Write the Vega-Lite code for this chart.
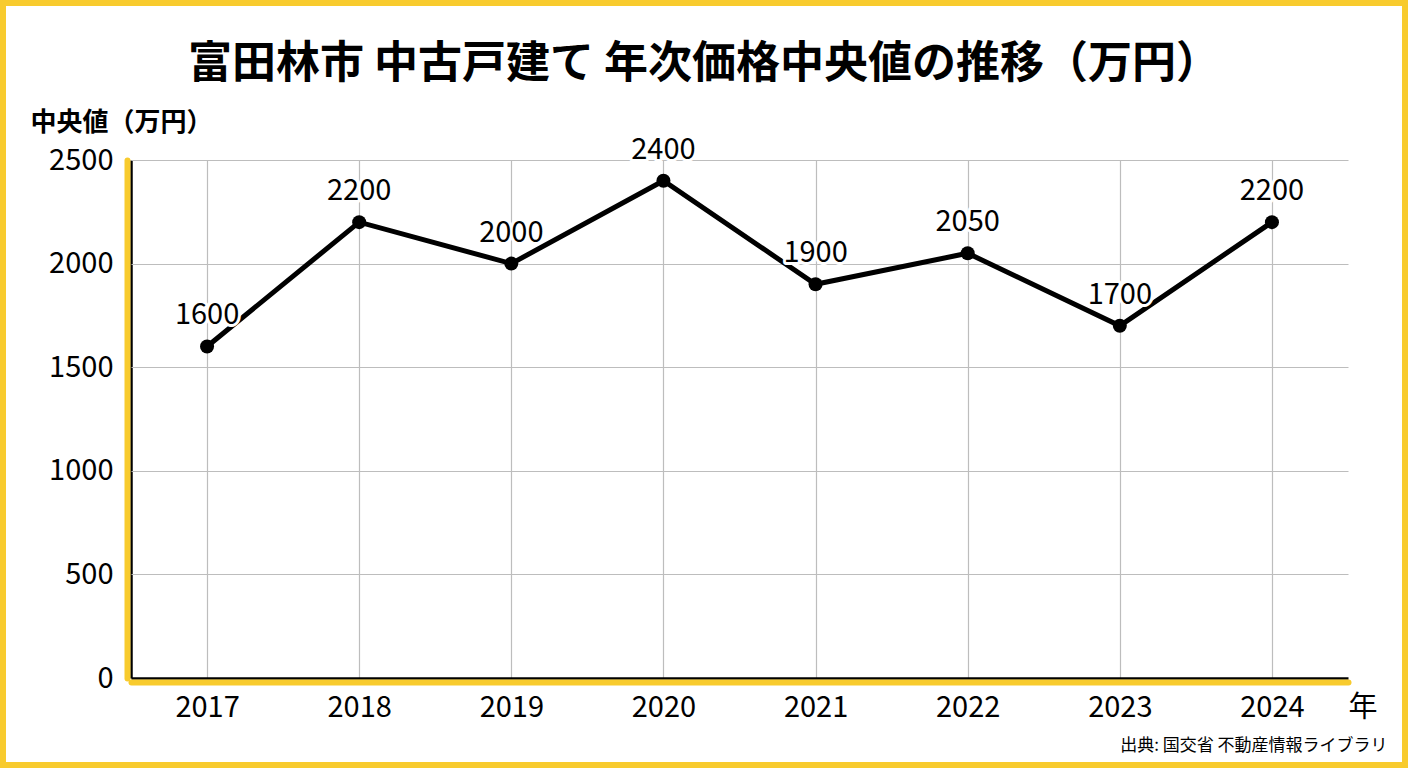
{
  "$schema": "https://vega.github.io/schema/vega-lite/v6.json",
  "width": 1408,
  "height": 768,
  "padding": 0,
  "autosize": {"type": "none"},
  "background": "white",
  "config": {
    "font": "Noto Sans CJK JP",
    "view": {"stroke": "#F8CB2E", "strokeWidth": 12}
  },
  "title": {
    "text": "富田林市 中古戸建て 年次価格中央値の推移（万円）",
    "fontSize": 44,
    "fontWeight": "bold",
    "color": "black",
    "anchor": "middle",
    "frame": "group",
    "offset": -87
  },
  "data": {
    "values": [
      {"year": 2017, "value": 1600},
      {"year": 2018, "value": 2200},
      {"year": 2019, "value": 2000},
      {"year": 2020, "value": 2400},
      {"year": 2021, "value": 1900},
      {"year": 2022, "value": 2050},
      {"year": 2023, "value": 1700},
      {"year": 2024, "value": 2200}
    ]
  },
  "encoding": {
    "x": {
      "field": "year",
      "type": "quantitative",
      "scale": {"domain": [2016.5, 2024.5], "range": [131, 1348], "nice": false, "zero": false},
      "axis": {
        "orient": "top",
        "offset": -682,
        "values": [2016.5, 2017, 2018, 2019, 2020, 2021, 2022, 2023, 2024, 2024.5],
        "tickCount": 50,
        "tickMinStep": 0.1,
        "labelExpr": "datum.value == 2024.5 ? '年' : (datum.value == 2016.5 ? '' : format(datum.value, 'd'))",
        "labelAlign": {"condition": {"test": "datum.value == 2024.5", "value": "left"}, "value": "center"},
        "labelBaseline": "top",
        "labelFlush": false,
        "labelOverlap": false,
        "labelFontSize": 29,
        "labelColor": "black",
        "labelPadding": -11,
        "ticks": false,
        "tickSize": 0,
        "domainColor": "#F8CB2E",
        "domainWidth": 6,
        "domainCap": "round",
        "gridColor": {"condition": {"test": "datum.value == 2016.5", "value": "black"}, "value": "#bdbdbd"},
        "gridWidth": {"condition": {"test": "datum.value == 2016.5", "value": 2.5}, "value": 1.2},
        "gridOpacity": {"condition": {"test": "datum.value == 2024.5", "value": 0}, "value": 1},
        "title": "出典: 国交省 不動産情報ライブラリ",
        "titleX": 1387,
        "titleY": 63,
        "titleAlign": "right",
        "titleBaseline": "middle",
        "titleFontSize": 17,
        "titleFontWeight": "normal",
        "titleColor": "black"
      }
    },
    "y": {
      "field": "value",
      "type": "quantitative",
      "scale": {"domain": [0, 2500], "range": [678, 160], "nice": false},
      "axis": {
        "orient": "left",
        "offset": -127,
        "values": [0, 500, 1000, 1500, 2000, 2500],
        "tickCount": 50,
        "format": "d",
        "labelFontSize": 29,
        "labelColor": "black",
        "labelPadding": 14,
        "ticks": false,
        "tickSize": 0,
        "domainColor": "#F8CB2E",
        "domainWidth": 6,
        "domainCap": "round",
        "gridColor": {"condition": {"test": "datum.value == 0", "value": "black"}, "value": "#bdbdbd"},
        "gridWidth": {"condition": {"test": "datum.value == 0", "value": 2.5}, "value": 1.2},
        "title": "中央値（万円）",
        "titleAngle": 0,
        "titleX": -97,
        "titleY": 122,
        "titleAlign": "left",
        "titleBaseline": "middle",
        "titleFontSize": 26,
        "titleFontWeight": "bold",
        "titleColor": "black"
      }
    }
  },
  "layer": [
    {"mark": {"type": "line", "color": "black", "strokeWidth": 5}},
    {"mark": {"type": "circle", "color": "black", "size": 196, "opacity": 1}},
    {
      "mark": {"type": "text", "dy": -31, "fontSize": 29, "fill": "white", "stroke": "white", "strokeWidth": 6, "strokeJoin": "round"},
      "encoding": {"text": {"field": "value", "type": "quantitative", "format": "d"}}
    },
    {
      "mark": {"type": "text", "dy": -31, "fontSize": 29, "color": "black"},
      "encoding": {"text": {"field": "value", "type": "quantitative", "format": "d"}}
    }
  ]
}
